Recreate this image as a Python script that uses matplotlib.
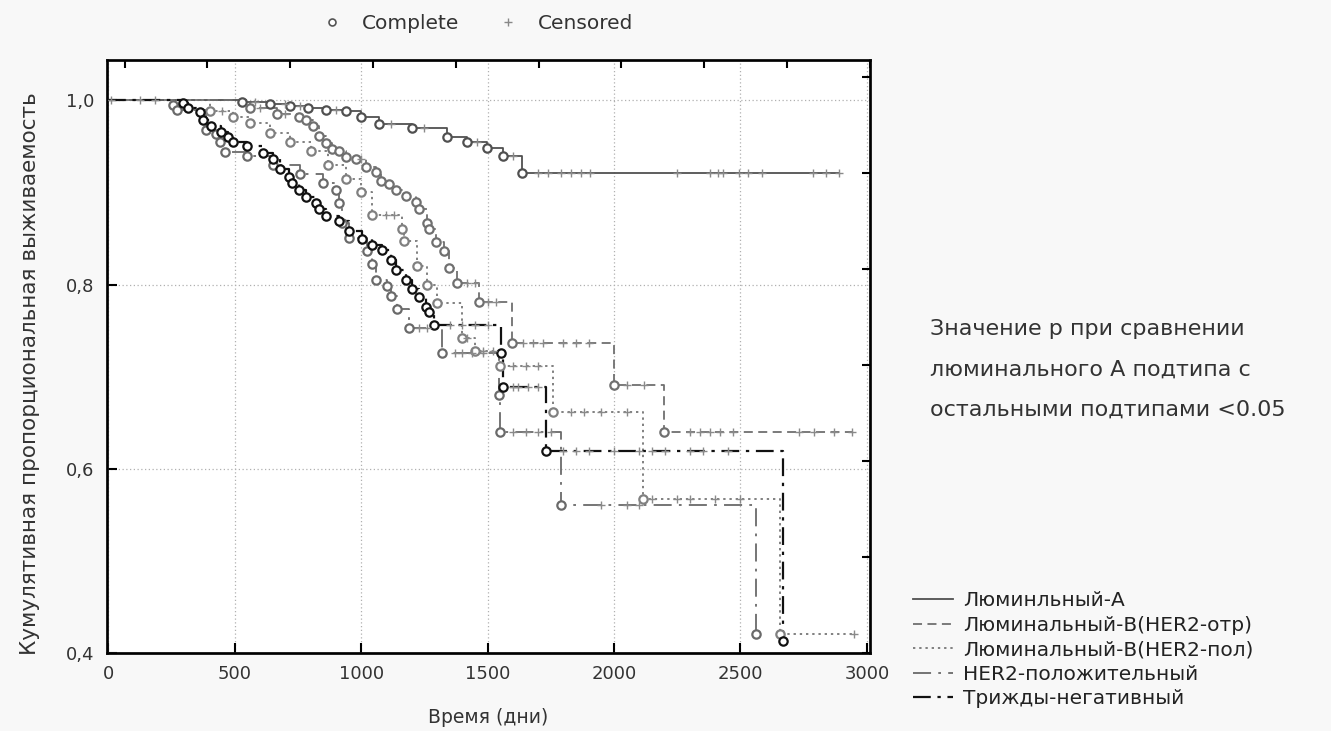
import matplotlib
matplotlib.use("Agg")
import matplotlib.pyplot as plt
from matplotlib.lines import Line2D
import numpy as np

# Kaplan-Meier steps: event times (days) and survival after each event
lumA_t = [530, 640, 720, 790, 860, 940, 1000, 1071, 1200, 1340, 1420, 1498, 1560, 1636]
lumA_s = [0.998, 0.996, 0.994, 0.992, 0.990, 0.988, 0.982, 0.974, 0.970, 0.960, 0.955, 0.948, 0.940, 0.921]
lumA_c = [10, 125, 185, 580, 700, 760, 900, 1120, 1250, 1460, 1600, 1700, 1740, 1790, 1830, 1870, 1905,
          2250, 2380, 2410, 2430, 2495, 2530, 2585, 2785, 2840, 2890]

lumBneg_t = [560, 668, 755, 782, 810, 834, 861, 886, 913, 940, 980, 1020, 1059, 1079, 1111, 1138, 1178,
             1217, 1229, 1261, 1269, 1297, 1328, 1348, 1380, 1466, 1597, 2000, 2198]
lumBneg_s = [0.992, 0.985, 0.982, 0.979, 0.972, 0.961, 0.954, 0.947, 0.945, 0.939, 0.936, 0.928, 0.922,
             0.912, 0.909, 0.903, 0.896, 0.890, 0.882, 0.867, 0.860, 0.846, 0.836, 0.818, 0.802, 0.781,
             0.737, 0.691, 0.640]
lumBneg_c = [600, 700, 1000, 1420, 1450, 1500, 1535, 1640, 1680, 1720, 1800, 1850, 1900, 2050, 2120,
             2300, 2340, 2380, 2420, 2470, 2730, 2790, 2870, 2940]

lumBpos_t = [403, 494, 560, 640, 720, 800, 870, 940, 1000, 1043, 1162, 1170, 1221, 1260, 1300, 1399,
             1450, 1550, 1760, 2115, 2656]
lumBpos_s = [0.988, 0.982, 0.975, 0.965, 0.955, 0.945, 0.930, 0.915, 0.900, 0.876, 0.860, 0.847, 0.820,
             0.800, 0.780, 0.742, 0.728, 0.712, 0.662, 0.567, 0.420]
lumBpos_c = [450, 1100, 1130, 1420, 1480, 1520, 1600, 1650, 1700, 1830, 1880, 1950, 2050,
             2150, 2250, 2300, 2400, 2500, 2950]

her2_t = [254, 272, 387, 427, 443, 462, 550, 650, 760, 850, 901, 913, 925, 953, 1024, 1043, 1059,
          1103, 1119, 1142, 1190, 1320, 1545, 1550, 1790, 2560]
her2_s = [0.995, 0.990, 0.968, 0.963, 0.955, 0.944, 0.940, 0.930, 0.920, 0.910, 0.903, 0.889, 0.867,
          0.851, 0.836, 0.822, 0.805, 0.798, 0.787, 0.773, 0.753, 0.726, 0.680, 0.640, 0.560, 0.420]
her2_c = [1230, 1260, 1370, 1400, 1440, 1480, 1600, 1650, 1700, 1750, 1950, 2050, 2100]

tneg_t = [296, 316, 364, 376, 407, 447, 475, 494, 549, 613, 652, 680, 715, 727, 755, 782, 822, 834,
          861, 913, 953, 1004, 1043, 1083, 1119, 1138, 1178, 1202, 1229, 1257, 1269, 1289, 1553, 1560,
          1730, 2668]
tneg_s = [0.997, 0.992, 0.987, 0.979, 0.972, 0.966, 0.960, 0.955, 0.950, 0.943, 0.936, 0.925, 0.917,
          0.910, 0.903, 0.895, 0.889, 0.882, 0.874, 0.869, 0.858, 0.849, 0.843, 0.838, 0.827, 0.816,
          0.805, 0.795, 0.786, 0.776, 0.770, 0.756, 0.726, 0.689, 0.619, 0.413]
tneg_c = [1350, 1400, 1450, 1500, 1600, 1620, 1660, 1700, 1800, 1850, 1900, 2000, 2100, 2150, 2200,
          2300, 2350, 2450]

labels = ['Люминльный-А', 'Люминальный-В(HER2-отр)', 'Люминальный-В(HER2-пол)',
          'HER2-положительный', 'Трижды-негативный']
yticks = [0.4, 0.6, 0.8, 1.0]
ytick_labels = ['0,4', '0,6', '0,8', '1,0']
xticks = [0, 500, 1000, 1500, 2000, 2500, 3000]

groups = [
    (lumA_t, lumA_s, lumA_c, '#505050', '-', 1.3),
    (lumBneg_t, lumBneg_s, lumBneg_c, '#707070', (0, (5, 3)), 1.3),
    (lumBpos_t, lumBpos_s, lumBpos_c, '#808080', (0, (1.2, 2)), 1.4),
    (her2_t, her2_s, her2_c, '#6a6a6a', (0, (10, 4, 1.5, 4)), 1.3),
    (tneg_t, tneg_s, tneg_c, '#111111', (0, (8, 3, 1.5, 3)), 1.6),
]

fig = plt.figure(figsize=(13.31, 7.31), dpi=100, facecolor='#f8f8f8')
ax = fig.add_axes([0.0804, 0.1071, 0.5732, 0.8109])
ax.set_facecolor('white')

for (t, s, c, col, ls, lw), lab in zip(groups, labels):
    t = np.array(t, dtype=float)
    s = np.array(s)
    c = np.array(c, dtype=float)
    end = max(t.max(), c.max())
    xs = np.concatenate([[0.0], t, [end]])
    ys = np.concatenate([[1.0], s, [s[-1]]])
    ax.plot(xs, ys, drawstyle='steps-post', color=col, linestyle=ls, linewidth=lw, label=lab, zorder=3)
    # complete observations
    ax.plot(t, s, linestyle='none', marker='o', markersize=6, markerfacecolor='white',
            markeredgecolor=col, markeredgewidth=1.6, zorder=4)
    # censored observations sit on the curve
    idx = np.searchsorted(t, c, side='right')
    cs = np.where(idx == 0, 1.0, s[np.maximum(idx - 1, 0)])
    ax.plot(c, cs, linestyle='none', marker='+', markersize=6, color='#8a8a8a',
            markeredgewidth=1.0, zorder=5)

ax.set_xlim(-5, 3012)
ax.set_ylim(0.4, 1.044)
ax.set_xticks(xticks)
ax.set_yticks(yticks)
ax.set_yticklabels(ytick_labels)
ax.grid(True, color='#b0b0b0', linestyle=(0, (1, 2)), linewidth=0.9)
ax.tick_params(direction='in', length=7, width=1.5, labelsize=13, labelcolor='#333333', pad=9)
for sp in ax.spines.values():
    sp.set_linewidth(2)
    sp.set_color('#111111')

# secondary tick marks on top and right
ax_top = ax.twiny()
ax_top.set_xlim(ax.get_xlim())
ax_top.set_xticks(np.arange(3012, 0, -327.5))
ax_top.tick_params(direction='in', length=6, width=1.5, labeltop=False)
ax_right = ax.twinx()
ax_right.set_ylim(ax.get_ylim())
ax_right.set_yticks(np.linspace(0.4, 1.026, 7))
ax_right.tick_params(direction='in', length=6, width=1.5, labelright=False)

ax.set_xlabel('Время (дни)', fontsize=13.5, color='#333333', labelpad=18)
ax.set_ylabel('Кумулятивная пропорциональная выживаемость', fontsize=15.5, color='#333333')
ax.yaxis.set_label_coords(-0.088, 0.47)

# legend for observation types on top
top_handles = [
    Line2D([], [], linestyle='none', marker='o', markersize=5, markerfacecolor='white',
           markeredgecolor='#555555', markeredgewidth=1.2),
    Line2D([], [], linestyle='none', marker='+', markersize=6, color='#888888', markeredgewidth=1.0),
]
fig.legend(top_handles, ['Complete', 'Censored'], loc='center', bbox_to_anchor=(0.355, 0.968),
           ncol=2, frameon=False, fontsize=14.5, handletextpad=0.5, columnspacing=1.4,
           labelcolor='#333333')

# legend for groups, outside bottom right
handles, labs = ax.get_legend_handles_labels()
fig.legend(handles, labs, loc='lower left', bbox_to_anchor=(0.672, 0.006), frameon=False,
           fontsize=14.5, handlelength=2.0, handletextpad=0.5, labelspacing=0.28, labelcolor='#222222')

fig.text(0.699, 0.495, 'Значение р при сравнении\nлюминального А подтипа с\nостальными подтипами <0.05',
         fontsize=16, color='#333333', linespacing=2.25, va='center', ha='left')

fig.savefig('out.png', dpi=100, facecolor=fig.get_facecolor())
